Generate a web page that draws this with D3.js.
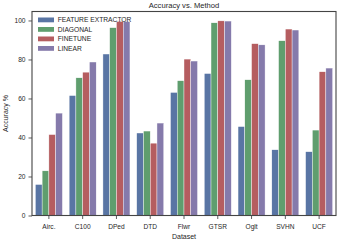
<html>
<head>
<script src="https://d3js.org/d3.v7.min.js"></script>
<style>
  body { margin: 0; background: #fff; }
  text { font-family: "Liberation Sans", Arial, sans-serif; fill: #262626; }
</style>
</head>
<body>
<svg id="chart" width="339" height="242"></svg>
<script>
// datasets on the x axis
const datasets = ["Airc.", "C100", "DPed", "DTD", "Flwr", "GTSR", "Oglt", "SVHN", "UCF"];
const methods = ["FEATURE EXTRACTOR", "DIAGONAL", "FINETUNE", "LINEAR"];
const colors = ["#5975a4", "#5f9e6e", "#b55d60", "#857aab"];

// accuracy per method, same order as datasets
const featureExtractor = [15.9, 61.5, 82.8, 42.3, 63.1, 72.8, 45.6, 33.7, 32.7];
const diagonal = [22.9, 70.6, 96.3, 43.3, 69.1, 98.8, 69.6, 89.6, 43.8];
const finetune = [41.5, 73.5, 99.5, 37.1, 80.2, 99.8, 88.1, 95.6, 73.7];
const linear = [52.5, 78.7, 99.4, 47.4, 79.2, 99.7, 87.5, 95.1, 75.6];
const yTicks = [0, 20, 40, 60, 80, 100];

const series = [featureExtractor, diagonal, finetune, linear];

const svg = d3.select("#chart");
const mLeft = 32, mRight = 336, mTop = 11.5, mBottom = 215.5;

// x: one band per dataset, bars take 80% of it (seaborn style)
const x = d3.scaleBand().domain(datasets).range([mLeft, mRight]).padding(0);
const xSub = d3.scaleBand().domain(methods)
    .range([x.bandwidth() * 0.1, x.bandwidth() * 0.9]);
const y = d3.scaleLinear().domain([0, 104.6]).range([mBottom, mTop]);

// bars
methods.forEach((m, i) => {
    svg.append("g").selectAll("rect")
        .data(series[i])
        .join("rect")
        .attr("x", (d, j) => x(datasets[j]) + xSub(m))
        .attr("width", xSub.bandwidth())
        .attr("y", d => y(d))
        .attr("height", d => y(0) - y(d))
        .attr("fill", colors[i])
        .attr("stroke", "#fff")
        .attr("stroke-width", 0.4);
});

// axes
const yAxis = svg.append("g")
    .attr("transform", `translate(${mLeft},0)`)
    .call(d3.axisLeft(y).tickValues(yTicks).tickSize(3.5).tickPadding(3));
const xAxis = svg.append("g")
    .attr("transform", `translate(0,${mBottom})`)
    .call(d3.axisBottom(x).tickSize(3.5).tickPadding(5.5));
[xAxis, yAxis].forEach(a => {
    a.select(".domain").remove();
    a.selectAll("line").attr("stroke", "#333").attr("stroke-width", 0.8);
    a.selectAll("text").style("font-size", "6.6px").attr("fill", "#262626")
        .style("font-family", "'Liberation Sans', Arial, sans-serif");
});

// frame
svg.append("rect")
    .attr("x", mLeft).attr("y", mTop)
    .attr("width", mRight - mLeft).attr("height", mBottom - mTop)
    .attr("fill", "none").attr("stroke", "#444").attr("stroke-width", 1.1);

// title and axis labels
svg.append("text").attr("x", (mLeft + mRight) / 2).attr("y", 8)
    .attr("text-anchor", "middle").style("font-size", "7.6px")
    .text("Accuracy vs. Method");
svg.append("text").attr("x", (mLeft + mRight) / 2).attr("y", 238.5)
    .attr("text-anchor", "middle").style("font-size", "7px")
    .text("Dataset");
svg.append("text")
    .attr("transform", `translate(8,${(mTop + mBottom) / 2}) rotate(-90)`)
    .attr("text-anchor", "middle").style("font-size", "7px")
    .text("Accuracy %");

// legend
const legend = svg.append("g").selectAll("g")
    .data(methods)
    .join("g")
    .attr("transform", (d, i) => `translate(38,${17.5 + i * 9.5})`);
legend.append("rect")
    .attr("width", 16).attr("height", 4.8)
    .attr("fill", (d, i) => colors[i]);
legend.append("text")
    .attr("x", 19.7).attr("y", 4.9)
    .style("font-size", "6.7px")
    .text(d => d);
</script>
</body>
</html>
